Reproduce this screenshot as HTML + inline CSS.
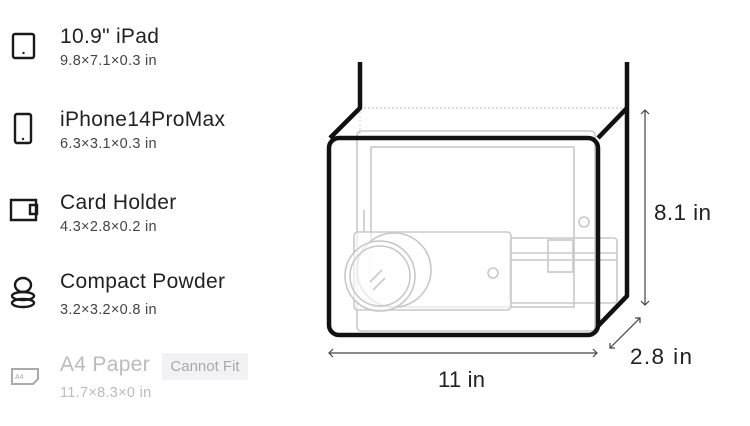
<!DOCTYPE html>
<html><head><style>
body{margin:0;width:750px;height:426px;background:#fff;font-family:"Liberation Sans",sans-serif;position:relative;overflow:hidden}
.t{position:absolute;left:60px;font-size:21px;color:#222;letter-spacing:0.3px}
.s{position:absolute;left:60px;font-size:14.5px;color:#444;letter-spacing:0.3px}
svg{position:absolute;left:0;top:0}
</style></head><body>
<div class="t" style="top:25px">10.9" iPad</div>
<div class="s" style="top:53px">9.8×7.1×0.3 in</div>
<div class="t" style="top:108px">iPhone14ProMax</div>
<div class="s" style="top:136px">6.3×3.1×0.3 in</div>
<div class="t" style="top:191px">Card Holder</div>
<div class="s" style="top:219px">4.3×2.8×0.2 in</div>
<div class="t" style="top:270px">Compact Powder</div>
<div class="s" style="top:302px">3.2×3.2×0.8 in</div>
<div class="t" style="top:353px;color:#bbb">A4 Paper</div>
<div style="position:absolute;left:162px;top:353px;width:86px;height:27px;background:#f2f2f5;color:#aaa;font-size:15px;line-height:27px;text-align:center">Cannot Fit</div>
<div class="s" style="top:385px;color:#bbb">11.7×8.3×0 in</div>
<svg width="750" height="426" viewBox="0 0 750 426">
<g fill="none" stroke="#1a1a1a" stroke-width="2.4">
<rect x="13" y="34" width="21" height="24" rx="2"/>
<rect x="15" y="114" width="16" height="29" rx="2"/>
<path d="M11 200h25v20h-25z"/><path d="M30 205h7v9h-7z"/>
<ellipse cx="23" cy="285" rx="8" ry="7"/><ellipse cx="23" cy="296" rx="11" ry="4"/><ellipse cx="23" cy="303" rx="11" ry="4"/>
</g>
<circle cx="23.5" cy="53" r="1.2" fill="#222"/><circle cx="23" cy="139" r="1.2" fill="#222"/>
<g fill="none" stroke="#aaa" stroke-width="2"><path d="M12 369h26v10l-5 5h-21z"/></g>
<text x="15" y="379" font-size="7" fill="#aaa" font-family="Liberation Sans">A4</text>
<g fill="none" stroke="#c8c8c8" stroke-width="1.6">
<rect x="357" y="131" width="238" height="200" rx="4"/>
<rect x="371" y="147" width="203" height="160"/>
<circle cx="584" cy="222" r="5"/>
<line x1="364" y1="210" x2="364" y2="232"/>
<rect x="510" y="238" width="107" height="65" rx="3"/>
<rect x="548" y="240" width="25" height="32"/>
<line x1="510" y1="253" x2="617" y2="253"/><line x1="510" y1="260" x2="617" y2="260"/>
<rect x="354" y="232" width="157" height="78" rx="4" fill="#fff" fill-opacity=".6"/>
<circle cx="493" cy="273" r="5"/>
<circle cx="394" cy="270" r="37" fill="#fff" fill-opacity=".6"/>
<circle cx="380" cy="276" r="35" fill="#fff" fill-opacity=".6"/>
<circle cx="380" cy="276" r="30"/>
<line x1="370" y1="282" x2="382" y2="270"/><line x1="373" y1="290" x2="385" y2="278"/>
</g>
<line x1="360" y1="108" x2="627" y2="108" stroke="#bbb" stroke-width="1" stroke-dasharray="2,2"/>
<line x1="360" y1="108" x2="360" y2="138" stroke="#ccc" stroke-width="1" stroke-dasharray="2,2"/>
<g fill="none" stroke="#111" stroke-width="4.5" stroke-linejoin="round">
<path d="M360 62V108L330 138"/>
<path d="M627 62V296L598 326"/>
<path d="M627 108L598 138"/>
<rect x="329" y="138" width="269" height="197" rx="10"/>
</g>
<g stroke="#444" stroke-width="1.2" fill="none">
<line x1="645" y1="110" x2="645" y2="305"/><path d="M641 114l4-4 4 4M641 301l4 4 4-4"/>
<line x1="329" y1="353" x2="597" y2="353"/><path d="M333 349l-4 4 4 4M593 349l4 4-4 4"/>
<line x1="610" y1="348" x2="640" y2="318"/><path d="M610 343v5h5M635 318h5v5"/>
</g>
<g font-family="Liberation Sans" fill="#222">
<text x="654" y="220" font-size="22.5" textLength="57">8.1 in</text>
<text x="630" y="364" font-size="22.5" textLength="62">2.8 in</text>
<text x="438" y="387" font-size="22" textLength="47">11 in</text>
</g>
</svg>
</body></html>
